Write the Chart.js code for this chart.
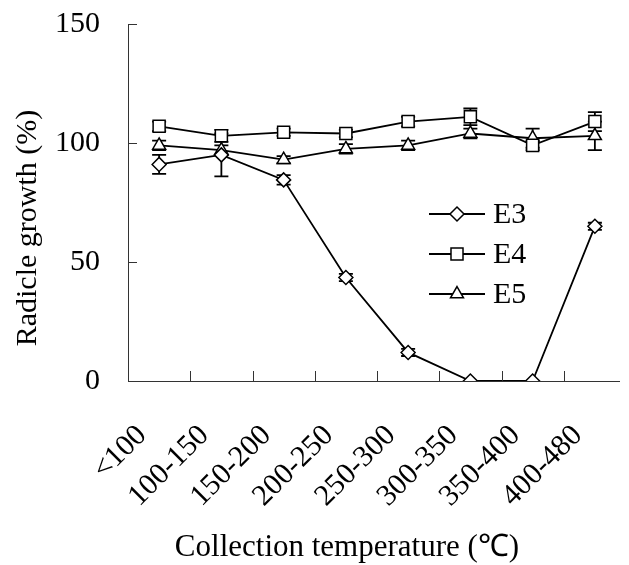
<!DOCTYPE html>
<html>
<head>
<meta charset="utf-8">
<script src="https://cdn.jsdelivr.net/npm/chart.js@4.4.1/dist/chart.umd.min.js"></script>
<style>
  html, body { margin: 0; padding: 0; background: #fff; overflow: hidden; }
  #wrap { width: 620px; height: 565px; overflow: hidden; }
  #chart { display: block; }
</style>
</head>
<body>
<div id="wrap"><canvas id="chart" width="636" height="565"></canvas></div>
<script>
// Collection temperature bins
const categories = ["<100", "100-150", "150-200", "200-250", "250-300", "300-350", "350-400", "400-480"];

// Radicle growth (%) per series, with error bar half-widths
const e3Values = [91, 95, 84.5, 43.5, 12, 0, 0, 65];
const e3Errors = [4, 9, 2, 1.5, 1.5, 0, 0, 1.5];
const e4Values = [107, 103, 104.5, 104, 109, 111, 99, 109];
const e4Errors = [2, 2.5, 1.5, 1.5, 2, 3.5, 2, 4];
const e5Values = [99, 97, 93, 97.5, 99, 104, 102, 103];
const e5Errors = [2, 2, 1.5, 2, 2, 2, 4, 6];

const yTicks = [0, 50, 100, 150];

const xTitle = "Collection temperature (\u2103)";
const yTitle = "Radicle growth (%)";

const FONT = "'Liberation Serif', 'Times New Roman', serif";

function drawMarker(ctx, style, x, y, r) {
  ctx.beginPath();
  if (style === "rectRot") {
    ctx.moveTo(x, y - r); ctx.lineTo(x + r, y); ctx.lineTo(x, y + r); ctx.lineTo(x - r, y);
  } else if (style === "rect") {
    const s = Math.SQRT1_2 * r;
    ctx.rect(x - s, y - s, 2 * s, 2 * s);
  } else {
    const half = r * Math.sqrt(3) / 2;
    ctx.moveTo(x, y - r); ctx.lineTo(x + half, y + r / 2); ctx.lineTo(x - half, y + r / 2);
  }
  ctx.closePath();
  ctx.fillStyle = "#fff";
  ctx.fill();
  ctx.stroke();
}

// error bars under the markers
const errorBars = {
  id: "errorBars",
  beforeDatasetsDraw(chart) {
    const { ctx, scales: { y } } = chart;
    ctx.save();
    ctx.strokeStyle = "#000";
    ctx.lineWidth = 1.8;
    chart.data.datasets.forEach((ds, i) => {
      const meta = chart.getDatasetMeta(i);
      ds.errors.forEach((e, j) => {
        if (!e) return;
        const px = meta.data[j].x;
        const top = y.getPixelForValue(ds.data[j] + e);
        const bot = y.getPixelForValue(ds.data[j] - e);
        ctx.beginPath();
        ctx.moveTo(px, top); ctx.lineTo(px, bot);
        ctx.moveTo(px - 7, top); ctx.lineTo(px + 7, top);
        ctx.moveTo(px - 7, bot); ctx.lineTo(px + 7, bot);
        ctx.stroke();
      });
    });
    ctx.restore();
  }
};

// axes with inward ticks, titles and the line+marker legend
const frame = {
  id: "frame",
  afterDraw(chart) {
    const { ctx, chartArea: a, scales: { x, y } } = chart;
    ctx.save();
    ctx.strokeStyle = "#333";
    ctx.lineWidth = 1;
    ctx.beginPath();
    ctx.moveTo(a.left + 0.5, a.top); ctx.lineTo(a.left + 0.5, a.bottom + 0.5);
    ctx.lineTo(a.right, a.bottom + 0.5);
    yTicks.forEach(v => {
      const py = Math.round(y.getPixelForValue(v)) + 0.5;
      ctx.moveTo(a.left, py); ctx.lineTo(a.left + 9, py);
    });
    for (let i = 1; i < categories.length; i++) {
      const px = Math.round((x.getPixelForValue(i - 1) + x.getPixelForValue(i)) / 2) + 0.5;
      ctx.moveTo(px, a.bottom); ctx.lineTo(px, a.bottom - 10);
    }
    ctx.stroke();

    ctx.fillStyle = "#000";
    ctx.font = "31px " + FONT;
    ctx.textAlign = "center";
    ctx.textBaseline = "middle";
    ctx.fillText(xTitle, a.left + 219, 548);
    ctx.font = "30px " + FONT;
    ctx.save();
    ctx.translate(28, a.top + 204);
    ctx.rotate(-Math.PI / 2);
    ctx.fillText(yTitle, 0, 0);
    ctx.restore();

    // legend
    const lx = a.left + 301, ly = a.top + 190;
    ctx.textAlign = "left";
    chart.data.datasets.forEach((ds, i) => {
      const cy = ly + i * 40;
      ctx.strokeStyle = "#000";
      ctx.lineWidth = 1.8;
      ctx.beginPath();
      ctx.moveTo(lx, cy); ctx.lineTo(lx + 56, cy);
      ctx.stroke();
      ctx.lineWidth = 1.5;
      drawMarker(ctx, ds.pointStyle, lx + 28, cy, ds.pointRadius);
      ctx.fillStyle = "#000";
      ctx.fillText(ds.label, lx + 64, cy + 1);
    });
    ctx.restore();
  }
};

function series(label, data, errors, style, radius) {
  return {
    label, data, errors,
    borderColor: "#000",
    borderWidth: 1.8,
    pointStyle: style,
    pointRadius: radius,
    pointBackgroundColor: "#fff",
    pointBorderColor: "#000",
    pointBorderWidth: 1.5,
    tension: 0,
    fill: false
  };
}

new Chart(document.getElementById("chart"), {
  type: "line",
  data: {
    labels: categories,
    datasets: [
      series("E3", e3Values, e3Errors, "rectRot", 7),
      series("E4", e4Values, e4Errors, "rect", 8.5),
      series("E5", e5Values, e5Errors, "triangle", 7.5)
    ]
  },
  options: {
    responsive: false,
    animation: false,
    layout: { padding: { top: 24, left: 0, right: 0, bottom: 0 } },
    plugins: { legend: { display: false }, tooltip: { enabled: false } },
    scales: {
      x: {
        type: "category",
        offset: true,
        grid: { display: false, drawTicks: false },
        border: { display: false },
        ticks: {
          color: "#000",
          font: { family: FONT, size: 30 },
          maxRotation: 45,
          minRotation: 45,
          padding: 37,
          labelOffset: -17,
          autoSkip: false
        },
        afterFit(s) { s.height = 184; s.paddingLeft = 0; s.paddingRight = 0; }
      },
      y: {
        min: 0,
        max: 150,
        grid: { display: false, drawTicks: false },
        border: { display: false },
        afterBuildTicks(s) { s.ticks = yTicks.map(v => ({ value: v })); },
        ticks: {
          color: "#000",
          font: { family: FONT, size: 30 },
          padding: 28
        },
        afterFit(s) { s.width = 128; s.paddingTop = 0; s.paddingBottom = 0; }
      }
    }
  },
  plugins: [errorBars, frame]
});
</script>
</body>
</html>
